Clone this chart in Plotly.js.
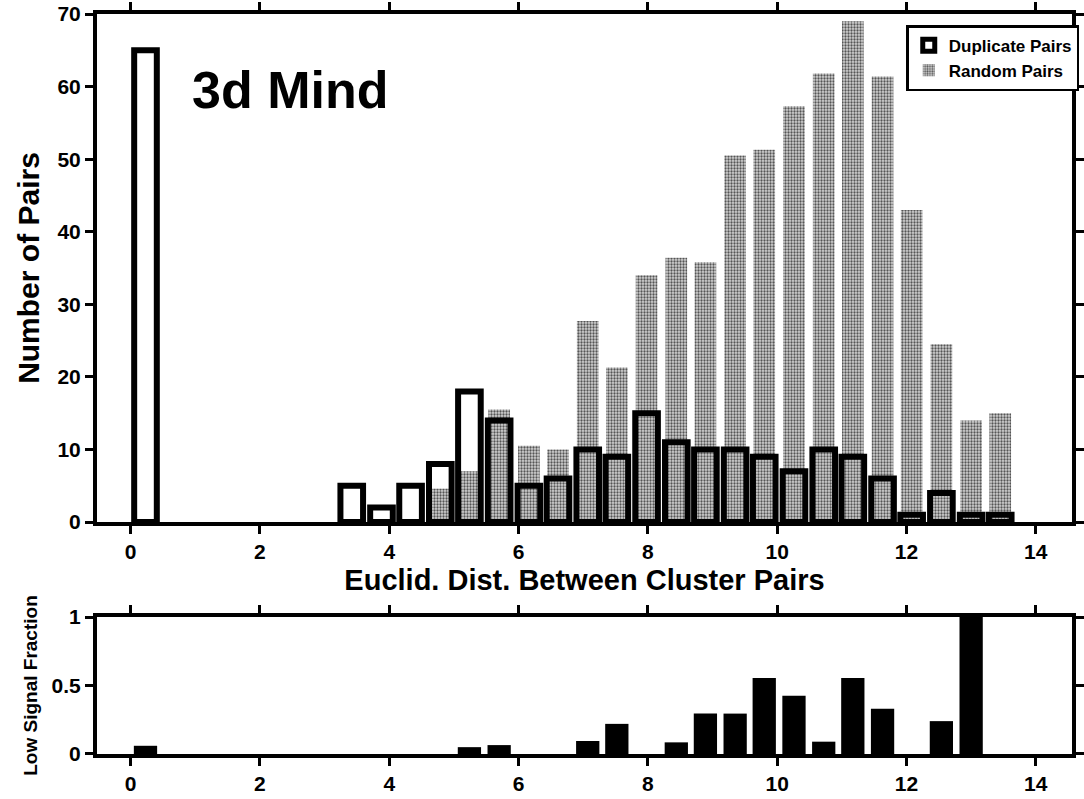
<!DOCTYPE html>
<html>
<head>
<meta charset="utf-8">
<script src="https://cdn.plot.ly/plotly-3.0.1.min.js"></script>
<style>html,body{margin:0;padding:0;background:#fff;}#chart{width:1084px;height:799px;}</style>
</head>
<body>
<div id="chart"></div>
<script>
// Bin centres of the distance histogram (Euclid. distance)
const binCenters = [0.23, 0.68, 1.14, 1.6, 2.05, 2.51, 2.96, 3.42, 3.88, 4.33,
                    4.79, 5.24, 5.7, 6.16, 6.61, 7.07, 7.52, 7.98, 8.44, 8.89,
                    9.35, 9.8, 10.26, 10.72, 11.17, 11.63, 12.08, 12.54, 13.0, 13.45];
// Number of pairs per bin
const duplicatePairs = [65, 0, 0, 0, 0, 0, 0, 5, 2, 5,
                        8, 18, 14, 5, 6, 10, 9, 15, 11, 10,
                        10, 9, 7, 10, 9, 6, 1, 4, 1, 1];
const randomPairs = [0, 0, 0, 0, 0, 0, 0, 0, 0, 0,
                     4.6, 7, 15.5, 10.5, 10, 27.7, 21.3, 34, 36.4, 35.8,
                     50.5, 51.3, 57.3, 61.8, 69, 61.4, 43, 24.5, 14, 15];
// Low signal fraction per bin
const lowSignalFraction = [0.06, 0, 0, 0, 0, 0, 0, 0, 0, 0,
                           0, 0.05, 0.065, 0, 0, 0.095, 0.22, 0, 0.085, 0.295,
                           0.295, 0.555, 0.425, 0.09, 0.555, 0.33, 0, 0.24, 1.0, 0];
const xTicks = [0, 2, 4, 6, 8, 10, 12, 14];
const yTicksTop = [0, 10, 20, 30, 40, 50, 60, 70];
const yTicksBottom = [0, 0.5, 1];
const yTickTextBottom = ['0', '0.5', '1'];

const FONT = 'Liberation Sans, Arial, Helvetica, sans-serif';
// empty bins are not drawn
const hideZero = v => (v === 0 ? null : v);

const traces = [
  {
    type: 'bar', name: 'Random Pairs', x: binCenters, y: randomPairs.map(hideZero),
    xaxis: 'x', yaxis: 'y', width: 0.335,
    marker: {
      color: '#bdbdbd',
      pattern: {shape: '.', fgcolor: '#555555', bgcolor: '#d2d2d2', size: 3, solidity: 0.45},
      line: {width: 0}
    },
    legendrank: 2
  },
  {
    type: 'bar', name: 'Duplicate Pairs', x: binCenters, y: duplicatePairs.map(hideZero),
    xaxis: 'x', yaxis: 'y', width: 0.35,
    marker: {color: 'rgba(0,0,0,0)', line: {color: '#000', width: 6}},
    legendrank: 1
  },
  {
    type: 'bar', name: 'Low Signal Fraction', x: binCenters, y: lowSignalFraction.map(hideZero),
    xaxis: 'x2', yaxis: 'y2', width: 0.36,
    marker: {color: '#000', line: {width: 0}},
    showlegend: false
  }
];

const axisCommon = {
  showgrid: false, zeroline: false, showline: true, linecolor: '#000', linewidth: 4,
  mirror: 'ticks', ticks: 'outside', ticklen: 8, tickwidth: 3, tickcolor: '#000',
  tickfont: {family: FONT, size: 21, color: '#000', weight: 'bold'}
};

const layout = {
  width: 1084, height: 799,
  margin: {l: 97, r: 12, t: 14, b: 45, pad: 0, autoexpand: false},
  paper_bgcolor: '#fff', plot_bgcolor: '#fff',
  barmode: 'overlay',
  font: {family: FONT, color: '#000', weight: 'bold'},
  xaxis: Object.assign({}, axisCommon, {
    domain: [0, 1], anchor: 'y', range: [-0.52, 14.56], tickvals: xTicks,
    title: {text: 'Euclid. Dist. Between Cluster Pairs', font: {family: FONT, size: 29, weight: 'bold'}, standoff: 8}
  }),
  yaxis: Object.assign({}, axisCommon, {
    domain: [0.3135, 1], anchor: 'x', range: [0, 70], tickvals: yTicksTop,
    title: {text: 'Number of Pairs', font: {family: FONT, size: 30, weight: 'bold'}, standoff: 10}
  }),
  xaxis2: Object.assign({}, axisCommon, {
    domain: [0, 1], anchor: 'y2', range: [-0.52, 14.56], tickvals: xTicks
  }),
  yaxis2: Object.assign({}, axisCommon, {
    domain: [0, 0.1851], anchor: 'x2', range: [0, 1], tickvals: yTicksBottom, ticktext: yTickTextBottom,
    title: {text: 'Low Signal Fraction', font: {family: FONT, size: 19, weight: 'bold'}, standoff: 10}
  }),
  legend: {
    x: 0.83, y: 0.985, xanchor: 'left', yanchor: 'top',
    bgcolor: '#fff', bordercolor: '#000', borderwidth: 2.5,
    font: {family: FONT, size: 17, weight: 'bold', color: '#000'},
    traceorder: 'normal', itemwidth: 30
  },
  annotations: [
    {text: '3d Mind', xref: 'x', yref: 'y', x: 2.46, y: 59.5, xanchor: 'center', yanchor: 'middle',
     showarrow: false, font: {family: FONT, size: 52, weight: 'bold', color: '#000'}}
  ]
};

Plotly.newPlot('chart', traces, layout, {displayModeBar: false, staticPlot: true});
</script>
</body>
</html>
